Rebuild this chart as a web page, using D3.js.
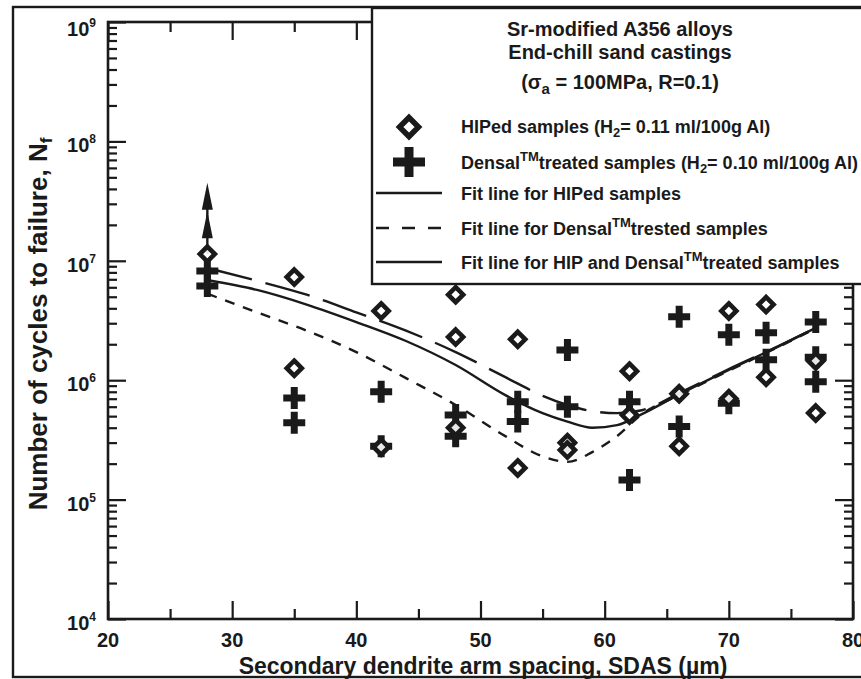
<!DOCTYPE html>
<html>
<head>
<meta charset="utf-8">
<script src="https://cdn.jsdelivr.net/npm/d3@7"></script>
<style>
  body { margin: 0; background: #fff; }
  svg { display: block; }
  text { font-family: "Liberation Sans", Arial, Helvetica, sans-serif; fill: #1a1a1a; }
</style>
</head>
<body>
<svg id="chart" width="861" height="679"></svg>
<script>
//=============== data ===============
// HIPed samples (diamonds)
var hipSdas   = [28, 35, 35, 42, 42, 48, 48, 48, 53, 53, 57, 57, 62, 62, 66, 66, 70, 70, 73, 73, 77, 77];
var hipCycles = [1.14e7, 7.3e6, 1.26e6, 3.8e6, 2.75e5, 5.2e6, 2.3e6, 4.0e5, 2.2e6, 1.84e5, 3.0e5, 2.6e5,
                 1.19e6, 5.1e5, 7.7e5, 2.8e5, 3.8e6, 7.0e5, 4.3e6, 1.06e6, 1.45e6, 5.3e5];
// Densal treated samples (crosses)
var densalSdas   = [28, 28, 35, 35, 42, 42, 48, 48, 53, 53, 57, 57, 62, 62, 66, 66, 70, 70, 73, 73, 77, 77, 77];
var densalCycles = [8.2e6, 6.15e6, 7.1e5, 4.4e5, 8.0e5, 2.8e5, 5.1e5, 3.4e5, 6.6e5, 4.5e5, 1.79e6, 6.0e5,
                    6.6e5, 1.46e5, 3.4e6, 4.1e5, 2.4e6, 6.4e5, 2.5e6, 1.48e6, 3.07e6, 1.56e6, 9.7e5];
// run-out arrow on the 28 um sample
var runoutSdas = 28;
var runoutFrom = 1.14e7;
var runoutTo   = 4.5e7;
var runoutMid  = 2.6e7;

// fit lines
var fitSdas     = [28, 32, 36, 40, 44, 48, 52, 55, 57, 59, 61, 63, 66, 70, 74, 77];
var fitHip      = [8.7e6, 6.8e6, 5.2e6, 3.7e6, 2.6e6, 1.72e6, 1.06e6, 7.4e5, 6.2e5, 5.5e5, 5.3e5, 5.6e5, 7.8e5, 1.24e6, 1.93e6, 2.74e6];
var fitDensal   = [5.3e6, 3.7e6, 2.6e6, 1.72e6, 1.04e6, 6.2e5, 3.4e5, 2.3e5, 2.07e5, 2.5e5, 3.4e5, 5.2e5, 7.5e5, 1.2e6, 1.9e6, 2.72e6];
var fitCombined = [6.9e6, 5.7e6, 4.3e6, 3.07e6, 2.13e6, 1.34e6, 7.5e5, 5.3e5, 4.5e5, 4.0e5, 4.2e5, 5.2e5, 7.6e5, 1.22e6, 1.92e6, 2.74e6];

// ticks
var xMajorTicks = [20, 30, 40, 50, 60, 70, 80];
var xMinorTicks = [25, 35, 45, 55, 65, 75];
var yExponents  = [4, 5, 6, 7, 8, 9];

// labels
var xTitle = "Secondary dendrite arm spacing, SDAS (\u00b5m)";
var yTitle = "Number of cycles to failure, N";
var legendTitle1 = "Sr-modified A356 alloys";
var legendTitle2 = "End-chill sand castings";
//=========================================================

var svg = d3.select("#chart");
var plot = { left: 108, right: 853, top: 22, bottom: 619 };
var ink = "#1a1a1a";

var x = d3.scaleLinear().domain([20, 80]).range([plot.left, plot.right]);
var y = d3.scaleLog().domain([1e4, 1e9]).range([plot.bottom, plot.top]);

var yMinor = [];
yExponents.slice(0, -1).forEach(function(e) {
  for (var m = 2; m <= 9; m++) yMinor.push(m * Math.pow(10, e));
});
var yMajor = yExponents.map(function(e) { return Math.pow(10, e); });

//=============== axes (ticks point inward) ===============
function tickAxis(axisFn, scale, values, size, tx, ty) {
  svg.append("g")
    .attr("transform", "translate(" + tx + "," + ty + ")")
    .call(axisFn(scale).tickValues(values).tickSize(size).tickFormat(""))
    .call(function(g) { g.select(".domain").remove(); })
    .call(function(g) { g.selectAll(".tick line").attr("stroke", ink).attr("stroke-width", 2.2); });
}
tickAxis(d3.axisBottom, x, xMajorTicks, -18, 0, plot.bottom);
tickAxis(d3.axisBottom, x, xMinorTicks, -10, 0, plot.bottom);
tickAxis(d3.axisTop, x, xMajorTicks, -18, 0, plot.top);
tickAxis(d3.axisTop, x, xMinorTicks, -10, 0, plot.top);
tickAxis(d3.axisLeft, y, yMajor, -18, plot.left, 0);
tickAxis(d3.axisLeft, y, yMinor, -9, plot.left, 0);
tickAxis(d3.axisRight, y, yMajor, -18, plot.right, 0);
tickAxis(d3.axisRight, y, yMinor, -9, plot.right, 0);

svg.append("rect")
  .attr("x", plot.left).attr("y", plot.top)
  .attr("width", plot.right - plot.left).attr("height", plot.bottom - plot.top)
  .attr("fill", "none").attr("stroke", ink).attr("stroke-width", 2.6);

// tick labels
svg.append("g").selectAll("text").data(xMajorTicks).join("text")
  .attr("x", function(d) { return x(d); })
  .attr("y", plot.bottom + 28)
  .attr("text-anchor", "middle")
  .style("font-size", "20px").style("font-weight", "bold")
  .text(function(d) { return d; });

var yl = svg.append("g").selectAll("text").data(yExponents).join("text")
  .attr("x", 96)
  .attr("y", function(d) { return y(Math.pow(10, d)) + (d === 9 ? 14 : 11); })
  .attr("text-anchor", "end")
  .style("font-size", "20px").style("font-weight", "bold");
yl.append("tspan").text("10");
yl.append("tspan").attr("dy", -9).style("font-size", "12px").text(function(d) { return d; });

//=============== fit lines ===============
var line = d3.line()
  .x(function(d) { return x(d[0]); })
  .y(function(d) { return y(d[1]); })
  .curve(d3.curveMonotoneX);

function drawFit(values, dash) {
  svg.append("path")
    .datum(fitSdas.map(function(s, i) { return [s, values[i]]; }))
    .attr("d", line)
    .attr("fill", "none")
    .attr("stroke", ink)
    .attr("stroke-width", 2.4)
    .attr("stroke-dasharray", dash);
}
drawFit(fitDensal, "10,9");
drawFit(fitHip, "46,14");
drawFit(fitCombined, null);

//=============== markers ===============
var diamondPath = "M0,-7.5L7.5,0L0,7.5L-7.5,0Z";
var crossPath = "M-3.5,-11H3.5V-3.5H11V3.5H3.5V11H-3.5V3.5H-11V-3.5H-3.5Z";
var bigDiamond = "M0,-9.5L9.5,0L0,9.5L-9.5,0Z";
var bigCross = "M-4.5,-15H4.5V-4.5H16V4.5H4.5V15H-4.5V4.5H-16V-4.5H-4.5Z";

// run-out arrow
var ax = x(runoutSdas);
svg.append("line")
  .attr("x1", ax).attr("x2", ax)
  .attr("y1", y(runoutFrom)).attr("y2", y(runoutTo) + 10)
  .attr("stroke", ink).attr("stroke-width", 2.4);
[runoutTo, runoutMid].forEach(function(v) {
  var ty = y(v);
  svg.append("path")
    .attr("d", "M" + ax + "," + ty + "L" + (ax + 5.5) + "," + (ty + 27) + "L" + (ax - 5.5) + "," + (ty + 27) + "Z")
    .attr("fill", ink);
});

svg.append("g").selectAll("path").data(densalSdas).join("path")
  .attr("transform", function(d, i) { return "translate(" + x(d) + "," + y(densalCycles[i]) + ")"; })
  .attr("d", crossPath)
  .attr("fill", ink);

svg.append("g").selectAll("path").data(hipSdas).join("path")
  .attr("transform", function(d, i) { return "translate(" + x(d) + "," + y(hipCycles[i]) + ")"; })
  .attr("d", diamondPath)
  .attr("fill", "#fff")
  .attr("stroke", ink)
  .attr("stroke-width", 4.6)
  .attr("fill-opacity", 0.9);

//=============== legend ===============
var lg = svg.append("g");
lg.append("rect")
  .attr("x", 372).attr("y", 8).attr("width", 520).attr("height", 276)
  .attr("fill", "#fff").attr("stroke", ink).attr("stroke-width", 2.4);

function legendText(tx, ty, size, anchor) {
  return lg.append("text").attr("x", tx).attr("y", ty)
    .attr("text-anchor", anchor || "start")
    .style("font-size", size + "px").style("font-weight", "bold");
}
legendText(620, 36, 20, "middle").text(legendTitle1);
legendText(620, 59, 20, "middle").text(legendTitle2);
var t3 = legendText(620, 89, 20, "middle");
t3.append("tspan").text("(\u03c3");
t3.append("tspan").attr("dy", 5).style("font-size", "15px").text("a");
t3.append("tspan").attr("dy", -5).text(" = 100MPa, R=0.1)");

function sub(t, s) { t.append("tspan").attr("dy", 4).style("font-size", "13px").text(s); }
function sup(t, s) { t.append("tspan").attr("dy", -8).style("font-size", "13px").text(s); }

lg.append("path").attr("transform", "translate(409,127)").attr("d", bigDiamond)
  .attr("fill", "#fff").attr("stroke", ink).attr("stroke-width", 5.5);
var l1 = legendText(461, 133, 18);
l1.append("tspan").text("HIPed samples (H");
sub(l1, "2");
l1.append("tspan").attr("dy", -4).text("= 0.11 ml/100g Al)");

lg.append("path").attr("transform", "translate(409,162)").attr("d", bigCross).attr("fill", ink);
var l2 = legendText(461, 169, 18);
l2.append("tspan").text("Densal");
sup(l2, "TM");
l2.append("tspan").attr("dy", 8).text("treated samples (H");
sub(l2, "2");
l2.append("tspan").attr("dy", -4).text("= 0.10 ml/100g Al)");

lg.append("line").attr("x1", 376).attr("x2", 442).attr("y1", 193).attr("y2", 193)
  .attr("stroke", ink).attr("stroke-width", 2.6);
legendText(461, 200, 18).text("Fit line for HIPed samples");

lg.append("line").attr("x1", 376).attr("x2", 442).attr("y1", 228).attr("y2", 228)
  .attr("stroke", ink).attr("stroke-width", 2.6).attr("stroke-dasharray", "13,13");
var l4 = legendText(461, 235, 18);
l4.append("tspan").text("Fit line for Densal");
sup(l4, "TM");
l4.append("tspan").attr("dy", 8).text("trested samples");

lg.append("line").attr("x1", 376).attr("x2", 442).attr("y1", 262).attr("y2", 262)
  .attr("stroke", ink).attr("stroke-width", 2.6);
var l5 = legendText(461, 269, 18);
l5.append("tspan").text("Fit line for HIP and Densal");
sup(l5, "TM");
l5.append("tspan").attr("dy", 8).text("treated samples");

//=============== axis titles ===============
svg.append("text")
  .attr("x", 483).attr("y", 674)
  .attr("text-anchor", "middle")
  .style("font-size", "23px").style("font-weight", "bold")
  .text(xTitle);

var yt = svg.append("text")
  .attr("transform", "translate(47,324) rotate(-90)")
  .attr("text-anchor", "middle")
  .style("font-size", "26px").style("font-weight", "bold");
yt.append("tspan").text(yTitle);
yt.append("tspan").attr("dy", 5).style("font-size", "17px").text("f");

// outer frame
svg.append("rect")
  .attr("x", 13).attr("y", 7).attr("width", 870).attr("height", 670)
  .attr("fill", "none").attr("stroke", ink).attr("stroke-width", 2.4);
</script>
</body>
</html>
